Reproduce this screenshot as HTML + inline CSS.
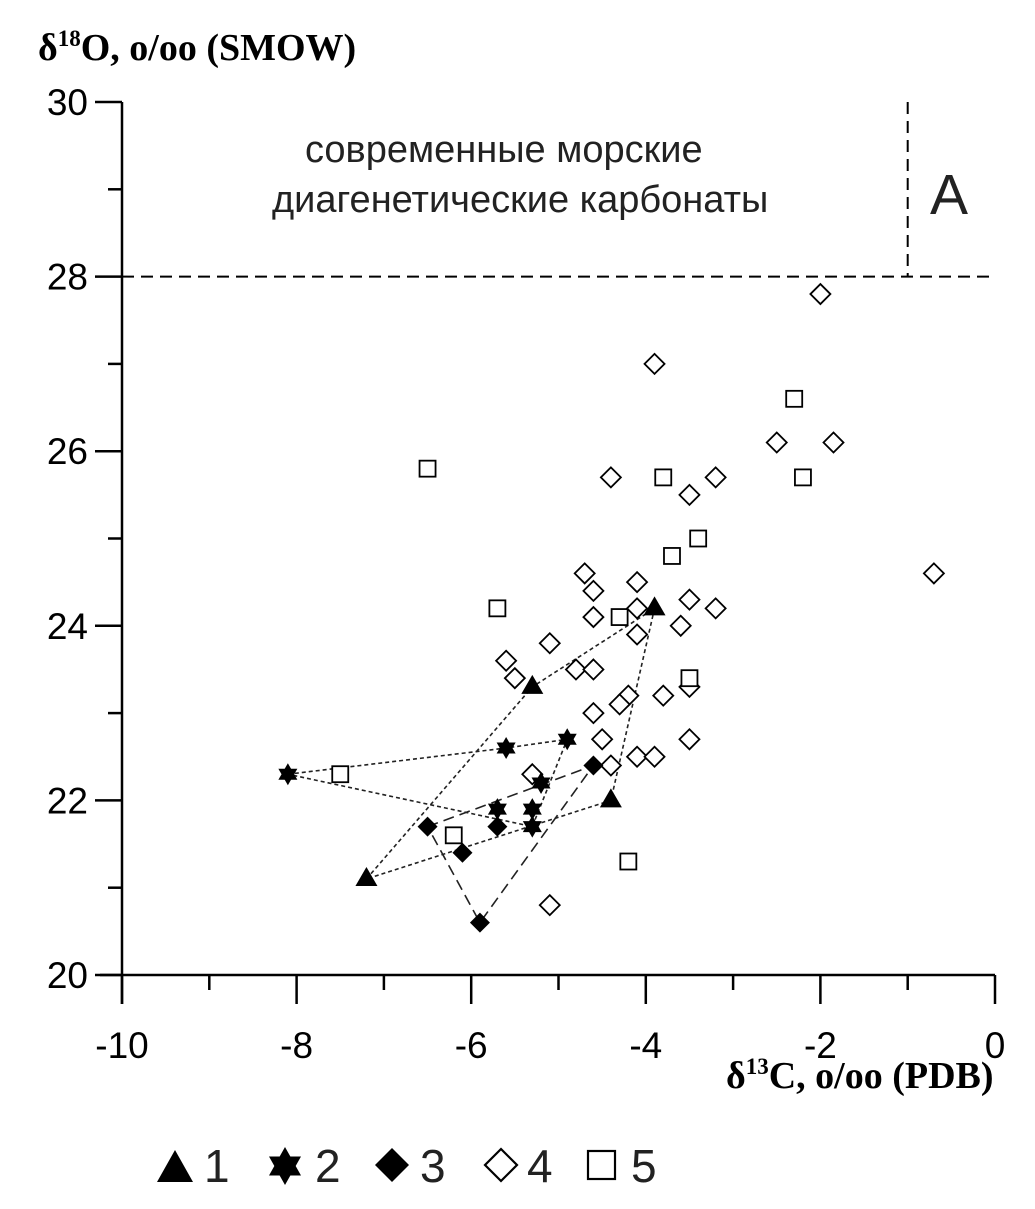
<!DOCTYPE html>
<html><head><meta charset="utf-8"><style>
body{margin:0;background:#fff}
svg{display:block}
.t{font-family:"Liberation Sans",sans-serif;font-size:37px;fill:#000}
.a{font-family:"Liberation Sans",sans-serif;font-size:38px;fill:#222}
.l{font-family:"Liberation Sans",sans-serif;font-size:46px;fill:#222}
.s{font-family:"Liberation Serif",serif;font-weight:bold;font-size:38px;fill:#000}
</style></head><body>
<svg id="c" width="1035" height="1209" xmlns="http://www.w3.org/2000/svg">
<text class="s" x="38" y="60">δ<tspan font-size="23" dy="-14">18</tspan><tspan dy="14">O, o/oo (SMOW)</tspan></text>
<text class="s" x="726" y="1088">δ<tspan font-size="23" dy="-14">13</tspan><tspan dy="14">C, o/oo (PDB)</tspan></text>
<text class="a" x="305" y="162">современные морские</text>
<text class="a" x="272" y="212">диагенетические карбонаты</text>
<text x="930" y="214" style="font-family:'Liberation Sans',sans-serif;font-size:57px;fill:#222">A</text>
<g id="axes"></g><g id="marks"></g>
<g>
<polygon points="157,1182 175,1150 193,1182" fill="#000"/>
<text class="l" x="204" y="1182">1</text>
<g transform="translate(285,1166)"><polygon points="0,-19 16,9.5 -16,9.5" fill="#000"/><polygon points="0,19 16,-9.5 -16,-9.5" fill="#000"/></g>
<text class="l" x="315" y="1182">2</text>
<polygon points="392,1148 409,1165 392,1182 375,1165" fill="#000"/>
<text class="l" x="420" y="1182">3</text>
<polygon points="501,1149 517,1165 501,1181 485,1165" fill="none" stroke="#000" stroke-width="2.2"/>
<text class="l" x="527" y="1182">4</text>
<rect x="588" y="1151" width="27" height="28" fill="none" stroke="#000" stroke-width="2.2"/>
<text class="l" x="631" y="1182">5</text>
</g>
</svg>
<script>
const xTicks=[-10,-8,-6,-4,-2,0];
const yTicks=[20,22,24,26,28,30];
const triX=[-7.2,-5.3,-3.9,-4.4];
const triY=[21.1,23.3,24.2,22.0];
const starX=[-8.1,-5.6,-4.9,-5.3,-5.7,-5.3,-5.2];
const starY=[22.3,22.6,22.7,21.7,21.9,21.9,22.2];
const starPath=[0,1,2,3,0];
const dmX=[-6.5,-4.6,-5.9,-5.7,-6.1];
const dmY=[21.7,22.4,20.6,21.7,21.4];
const dmPath=[0,1,2,0];
const odX=[-2.0,-3.9,-2.5,-1.85,-4.4,-3.5,-3.2,-0.7,-4.7,-4.6,-4.1,-3.5,-3.2,-4.1,-4.6,-3.6,-4.1,-5.1,-5.6,-5.5,-4.8,-4.6,-4.2,-4.3,-3.8,-3.5,-4.6,-4.5,-3.5,-4.1,-3.9,-4.4,-5.3,-5.1];
const odY=[27.8,27.0,26.1,26.1,25.7,25.5,25.7,24.6,24.6,24.4,24.5,24.3,24.2,24.2,24.1,24.0,23.9,23.8,23.6,23.4,23.5,23.5,23.2,23.1,23.2,23.3,23.0,22.7,22.7,22.5,22.5,22.4,22.3,20.8];
const sqX=[-6.5,-2.3,-3.8,-2.2,-3.4,-3.7,-5.7,-4.3,-3.5,-7.5,-6.2,-4.2];
const sqY=[25.8,26.6,25.7,25.7,25.0,24.8,24.2,24.1,23.4,22.3,21.6,21.3];
const X=v=>122+(v+10)*87.3, Y=v=>975-(v-20)*87.3;
const NS='http://www.w3.org/2000/svg';
function mk(t,a,p){const e=document.createElementNS(NS,t);for(const k in a)e.setAttribute(k,a[k]);p.appendChild(e);return e;}
const ax=document.getElementById('axes'),mg=document.getElementById('marks');
let e;
e=mk('line',{x1:100,y1:975,x2:995,y2:975,stroke:'#000','stroke-width':2.5},ax);


e=mk('line',{x1:122,y1:102,x2:122,y2:1004,stroke:'#000','stroke-width':2.5},ax);


for(let v=-10;v<=0;v++){const maj=v%2===0;e=mk('line',{x1:X(v),y1:975,x2:X(v),y2:maj?1004:990,stroke:'#000','stroke-width':2.5},ax);

}
for(let v=20;v<=30;v++){const maj=v%2===0;e=mk('line',{x1:maj?95:108,y1:Y(v),x2:122,y2:Y(v),stroke:'#000','stroke-width':2.5},ax);

}
xTicks.forEach(v=>{e=mk('text',{x:X(v),y:1058,'text-anchor':'middle',class:'t'},ax);e.textContent=v;

});
yTicks.forEach(v=>{e=mk('text',{x:88,y:Y(v)+13,'text-anchor':'end',class:'t'},ax);e.textContent=v;

});
e=mk('line',{x1:122,y1:Y(28),x2:995,y2:Y(28),stroke:'#000','stroke-width':2,'stroke-dasharray':'12,7'},ax);


e=mk('line',{x1:X(-1),y1:Y(30),x2:X(-1),y2:Y(28),stroke:'#000','stroke-width':2,'stroke-dasharray':'12,7'},ax);


function poly(xs,ys,idx,dash,name){const pts=idx.map(i=>X(xs[i])+','+Y(ys[i])).join(' ');e=mk('polyline',{points:pts,fill:'none',stroke:'#222','stroke-width':1.6,'stroke-dasharray':dash},mg);

}
poly(triX,triY,[0,1,2,3,0],'4,3','series-1-outline');
poly(starX,starY,starPath,'4,3','series-2-outline');
poly(dmX,dmY,dmPath,'11,6','series-3-outline');
odX.forEach((v,i)=>{const x=X(v),y=Y(odY[i]);e=mk('polygon',{points:`${x},${y-10} ${x+10},${y} ${x},${y+10} ${x-10},${y}`,fill:'#fff',stroke:'#000','stroke-width':1.8},mg);

});
sqX.forEach((v,i)=>{const x=X(v),y=Y(sqY[i]);e=mk('rect',{x:x-8,y:y-8,width:16,height:16,fill:'#fff',stroke:'#000','stroke-width':1.8},mg);

});
triX.forEach((v,i)=>{const x=X(v),y=Y(triY[i]);e=mk('polygon',{points:`${x-11},${y+7} ${x},${y-12} ${x+11},${y+7}`,fill:'#000'},mg);

});
starX.forEach((v,i)=>{const x=X(v),y=Y(starY[i]);e=mk('g',{},mg);
mk('polygon',{points:`${x},${y-11} ${x+9.5},${y+5.5} ${x-9.5},${y+5.5}`,fill:'#000'},e);
mk('polygon',{points:`${x},${y+11} ${x+9.5},${y-5.5} ${x-9.5},${y-5.5}`,fill:'#000'},e);

});
dmX.forEach((v,i)=>{const x=X(v),y=Y(dmY[i]);e=mk('polygon',{points:`${x},${y-10} ${x+10},${y} ${x},${y+10} ${x-10},${y}`,fill:'#000'},mg);

});
</script>
</body></html>
